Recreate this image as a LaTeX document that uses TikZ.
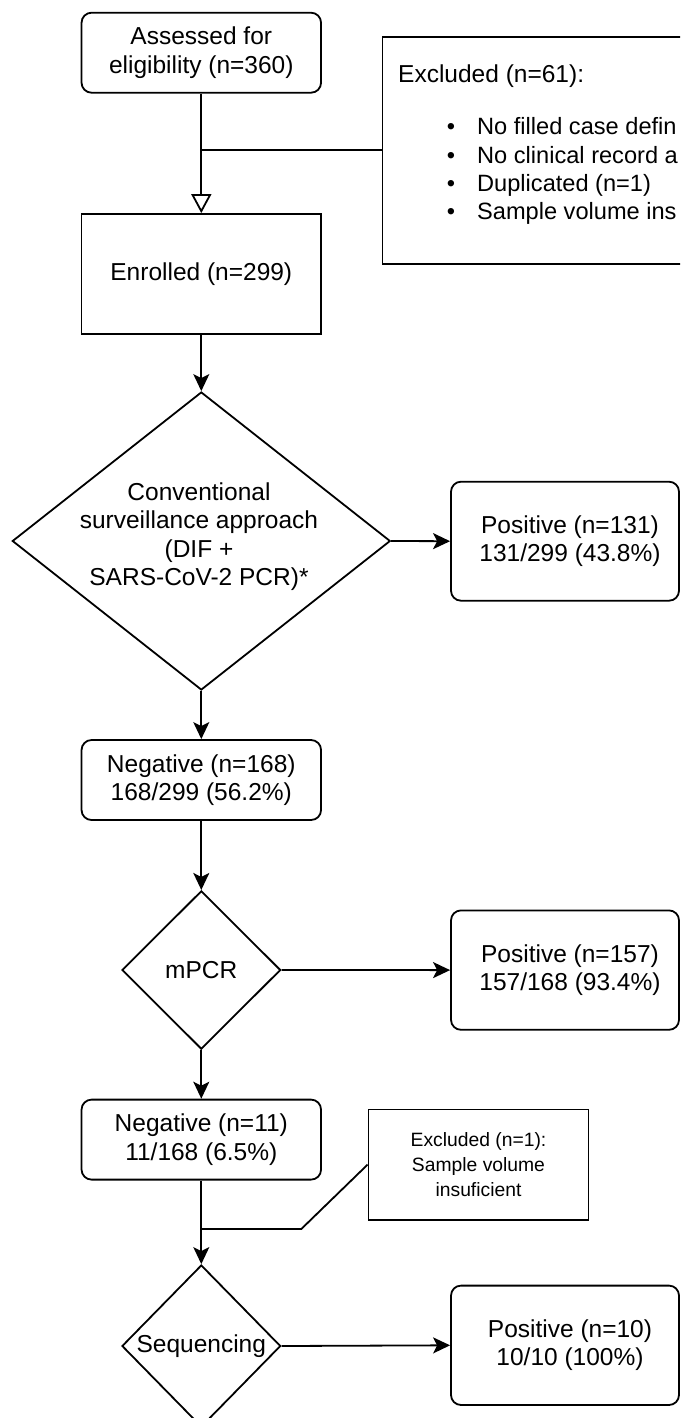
\documentclass[tikz,border=0pt]{standalone}
\usepackage{fontspec}
\setmainfont{Liberation Sans}
\usetikzlibrary{shapes.geometric,arrows.meta}
\begin{document}
\begin{tikzpicture}[x=1pt,y=-1pt,
  lw/.style={line width=1.8pt},
  bigfont/.style={font=\fontsize{24.5}{28.5}\selectfont},
  listfont/.style={font=\fontsize{23.6}{28.5}\selectfont},
  smallfont/.style={font=\fontsize{19.3}{24.8}\selectfont},
  rbox/.style={draw, lw, rounded corners=10pt, align=center, inner sep=0pt, bigfont},
  sbox/.style={draw, lw, align=center, inner sep=0pt, bigfont},
  dia/.style={draw, lw, diamond, inner sep=0pt},
  txt/.style={inner sep=0pt, align=center, bigfont},
  ltxt/.style={inner sep=0pt, listfont, anchor=base west},
  arr/.style={lw, -{Stealth[length=17pt,width=16pt,inset=4pt]}},
  openarr/.style={lw, -{Triangle[open,length=19pt,width=20pt]}},
  plain/.style={lw}
]
\useasboundingbox (0,0) rectangle (680,1418);
\clip (0,0) rectangle (680,1418);

% top
\node[rbox, minimum width=239.5pt, minimum height=80pt] (assess) at (201.3,52.7) {Assessed for\\eligibility (n=360)};
\node[sbox, minimum width=337.5pt, minimum height=227.3pt] (excl) at (551.2,150.3) {};
\node[txt, anchor=base west] (exclt) at (398,83) {Excluded (n=61):};
\node[inner sep=0pt, listfont, anchor=base] (b1) at (451,135) {•};
\node[inner sep=0pt, listfont, anchor=base] (b2) at (451,163) {•};
\node[inner sep=0pt, listfont, anchor=base] (b3) at (451,191) {•};
\node[inner sep=0pt, listfont, anchor=base] (b4) at (451,219) {•};
\node[ltxt] (l1) at (477,135) {No filled case defin};
\node[ltxt] (l2) at (477,163) {No clinical record a};
\node[ltxt] (l3) at (477,191) {Duplicated (n=1)};
\node[ltxt] (l4) at (477,219) {Sample volume ins};
\node[sbox, minimum width=239.5pt, minimum height=120pt] (enrolled) at (201.3,274) {Enrolled (n=299)};

% conventional
\node[dia, minimum width=378pt, minimum height=298pt] (conv) at (201.3,541) {};
\node[txt] (convt) at (199,536.5) {Conventional\\surveillance approach\\(DIF +\\SARS-CoV-2 PCR)*};
\node[rbox, minimum width=228pt, minimum height=119pt] (pos1) at (565,541.2) {};
\node[txt] (pos1t) at (570,541.2) {Positive (n=131)\\131/299 (43.8\%)};
\node[rbox, minimum width=239.5pt, minimum height=80pt] (neg1) at (201.3,780) {Negative (n=168)\\168/299 (56.2\%)};

% mPCR
\node[dia, minimum width=158.7pt, minimum height=158.3pt] (mpcr) at (201.3,970) {};
\node[txt] (mpcrt) at (201.3,970) {mPCR};
\node[rbox, minimum width=228pt, minimum height=119.4pt] (pos2) at (565,970.1) {};
\node[txt] (pos2t) at (570,970.1) {Positive (n=157)\\157/168 (93.4\%)};
\node[rbox, minimum width=239.5pt, minimum height=80pt] (neg2) at (201.3,1139.6) {Negative (n=11)\\11/168 (6.5\%)};
\node[draw, lw, inner sep=0pt, align=center, smallfont, minimum width=220pt, minimum height=110.4pt] (excl2) at (478.5,1164.6) {Excluded (n=1):\\Sample volume\\insuficient};

% sequencing
\node[dia, minimum width=158.7pt, minimum height=162pt] (seq) at (201.3,1346) {};
\node[txt] (seqt) at (201.3,1346) {Sequencing};
\node[rbox, minimum width=228pt, minimum height=119.4pt] (pos3) at (565,1345.3) {};
\node[txt] (pos3t) at (570,1345.3) {Positive (n=10)\\10/10 (100\%)};

% connectors
\draw[openarr] (assess.south) -- (enrolled.north);
\draw[plain] (excl.west) -- (excl.west -| assess.south);
\draw[arr] (enrolled.south) -- (conv.north);
\draw[arr] (conv.east) -- (pos1.west);
\draw[arr] (conv.south) -- (neg1.north);
\draw[arr] (neg1.south) -- (mpcr.north);
\draw[arr] (mpcr.east) -- (pos2.west);
\draw[arr] (mpcr.south) -- (neg2.north);
\draw[arr] (neg2.south) -- (seq.north);
\coordinate (k1) at (301.4,1228.9);
\draw[plain] (excl2.west) -- (k1) -- (k1 -| neg2.south);
\draw[arr] (seq.east) -- (pos3.west);
\end{tikzpicture}
\end{document}
